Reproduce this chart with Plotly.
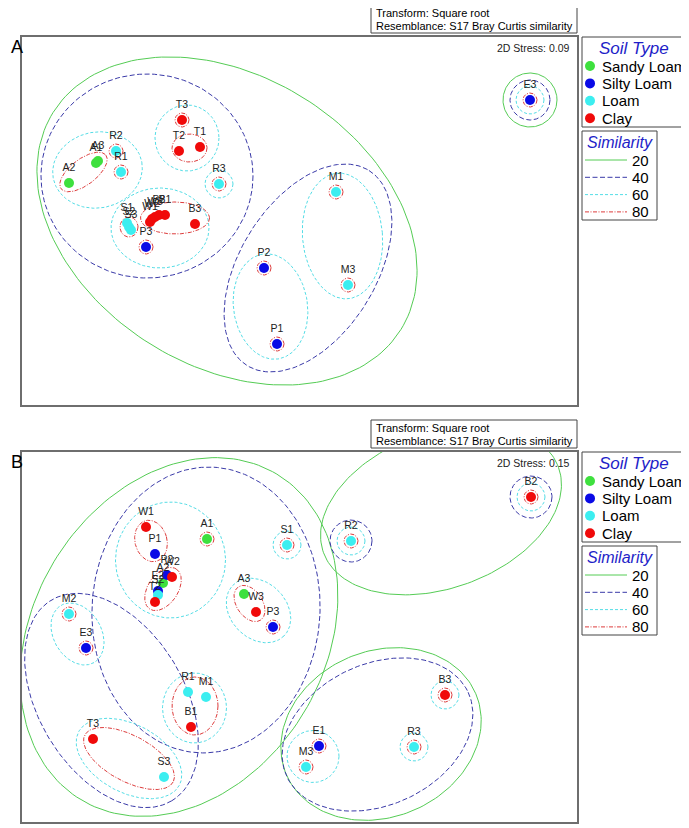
import numpy as np
import plotly.graph_objects as go

W, H = 689, 828
OFF = 8  # the page body margin shifts the figure by 8px
FW, FH = W - OFF, H - OFF
FONT = "Liberation Sans, Arial, sans-serif"

soil_types = ["Sandy Loam", "Silty Loam", "Loam", "Clay"]
soil_colors = ["#3ee03e", "#0a0ae6", "#3ceef0", "#f00a0a"]
sim_levels = ["20", "40", "60", "80"]
sim_colors = ["#55cc55", "#3a3aa8", "#55dde6", "#dd3c3c"]
sim_dash = ["solid", "5px,2.5px", "3px,2px", "4px,1.5px,1px,1.5px"]

# ---- panel A : nMDS, stress 0.09 ----
a_names = ["A1", "A2", "A3", "R1", "R2", "R3", "T1", "T2", "T3", "S1", "S2", "S3",
           "W1", "W2", "W3", "B1", "B2", "B3", "P1", "P2", "P3", "M1", "M3", "E3"]
a_x = [96, 69, 98, 121, 116, 219, 200, 179, 182, 127, 129, 131,
       150, 152, 155, 165, 159, 195, 277, 264, 146, 336, 348, 530]
a_y = [163, 183, 161, 172, 151, 184, 147, 151, 120, 223, 227, 230,
       222, 219, 217, 215, 215, 224, 344, 268, 247, 192, 285, 100]
a_soil = [0, 0, 0, 2, 2, 2, 3, 3, 3, 2, 2, 2,
          3, 3, 3, 3, 3, 3, 1, 1, 1, 2, 2, 1]

# cluster ellipses: centre x, centre y, radius x, radius y, tilt (deg)
a_ell_20 = [[227, 221, 205, 145, 32], [530, 100, 27, 27, 0]]
a_ell_40 = [[147, 176, 106, 102, 0], [308, 268, 115, 68, -58], [530, 100, 20, 20, 0]]
a_ell_60 = [[97.5, 170, 45, 38, -10], [187, 138, 32, 33, 0], [160, 228, 49, 40, 0],
            [270.5, 306.5, 37, 53, -8], [342.5, 236, 40, 63, -5]]
a_ell_80 = [[83.5, 172, 28, 13, -37], [189.5, 148, 17.5, 14, 0],
            [175, 218, 34.5, 16, 0], [129, 227, 9, 10, 0]]
a_single_60 = ["R3", "E3"]
a_single_80 = ["T3", "R2", "R1", "R3", "P3", "P2", "P1", "M1", "M3", "E3"]

# ---- panel B : nMDS, stress 0.15 ----
b_names = ["W1", "P1", "A1", "S1", "R2", "B2", "W2", "P2", "A2", "E2", "S2", "T2", "A3",
           "W3", "P3", "M2", "E3", "R1", "M1", "B1", "T3", "S3", "E1", "M3", "R3", "B3"]
b_x = [146, 155, 207, 287, 351, 531, 172, 167, 163, 158, 158, 155, 244,
       256, 273, 69, 86, 188, 206, 191, 93, 164, 319, 306, 414, 445]
b_y = [527, 554, 539, 545, 541, 497, 577, 575, 583, 591, 595, 602, 594,
       612, 627, 614, 648, 692, 697, 727, 739, 777, 746, 767, 747, 695]
b_soil = [3, 1, 0, 2, 2, 3, 3, 1, 0, 1, 2, 3, 0,
          3, 1, 2, 1, 2, 2, 3, 3, 2, 1, 2, 2, 3]

b_ell_20 = [[179, 637, 190, 146, -59], [441, 510, 125, 78, -20], [381, 734, 103, 83, -23]]
b_ell_40 = [[206, 610, 114, 143, 3], [111.5, 700.5, 117, 73, 59],
            [351, 541, 21, 21, 0], [531, 497, 21, 21, 0], [377.5, 734.5, 100, 70.5, -25]]
b_ell_60 = [[170.5, 560, 55, 58, 0], [258.5, 610.5, 36, 28, 45], [77.5, 634, 33, 24, 60],
            [194.5, 708, 32, 35, 0], [129, 758.5, 57, 34, 28], [313, 756.5, 26, 26, 0]]
b_ell_80 = [[151, 541, 16, 21, -15], [163, 589, 24, 15, -56], [249.5, 603.5, 20, 13, 56],
            [195, 706, 23, 29, 0], [129, 758.5, 50, 23, 28]]
b_single_60 = ["S1", "R2", "B2", "R3", "B3"]
b_single_80 = ["A1", "S1", "R2", "B2", "M2", "E3", "P3", "E1", "M3", "R3", "B3"]


def rings(names, xs, ys, picked, r):
    out = []
    for n in picked:
        i = names.index(n)
        out.append([xs[i], ys[i], r, r, 0])
    return out


def ellipse_path(ells):
    t = np.linspace(0, 2 * np.pi, 181)
    xs, ys = [], []
    for cx, cy, rx, ry, ang in ells:
        th = np.radians(ang)
        xs += list(cx + rx * np.cos(t) * np.cos(th) - ry * np.sin(t) * np.sin(th)) + [None]
        ys += list(cy + rx * np.cos(t) * np.sin(th) + ry * np.sin(t) * np.cos(th)) + [None]
    return xs, ys


def dom_x(a, b):
    return [(a - OFF) / FW, (b - OFF) / FW]


def dom_y(top, bottom):
    return [1 - (bottom - OFF) / FH, 1 - (top - OFF) / FH]


fig = go.Figure()

panels = [
    ("x", "y", a_names, a_x, a_y, a_soil,
     [a_ell_20, a_ell_40, a_ell_60 + rings(a_names, a_x, a_y, a_single_60, 14),
      a_ell_80 + rings(a_names, a_x, a_y, a_single_80, 7)]),
    ("x2", "y2", b_names, b_x, b_y, b_soil,
     [b_ell_20, b_ell_40, b_ell_60 + rings(b_names, b_x, b_y, b_single_60, 14),
      b_ell_80 + rings(b_names, b_x, b_y, b_single_80, 7)]),
]

for xa, ya, names, xs, ys, soil, ells in panels:
    for k, e in enumerate(ells):
        ex, ey = ellipse_path(e)
        fig.add_trace(go.Scatter(x=ex, y=ey, mode="lines", xaxis=xa, yaxis=ya,
                                 line=dict(color=sim_colors[k], width=1, dash=sim_dash[k]),
                                 hoverinfo="skip", showlegend=False))
    for s in range(4):
        idx = [i for i in range(len(names)) if soil[i] == s]
        fig.add_trace(go.Scatter(x=[xs[i] for i in idx], y=[ys[i] for i in idx],
                                 mode="markers", xaxis=xa, yaxis=ya, name=soil_types[s],
                                 marker=dict(size=10, color=soil_colors[s]),
                                 showlegend=False))
    fig.add_trace(go.Scatter(x=xs, y=ys, text=names, mode="markers+text", xaxis=xa, yaxis=ya,
                             textposition="top center",
                             textfont=dict(size=10.5, color="#222", family=FONT),
                             marker=dict(size=13, color="rgba(0,0,0,0)"),
                             hoverinfo="skip", showlegend=False))

# ---- hand-drawn legends, stress labels and boxes on a page-pixel overlay axis ----
shapes, annos = [], []
for dy, stress, tag in [(0, "0.09", "A"), (415, "0.15", "B")]:
    annos.append(dict(x=8.5, y=47 + dy, text=tag, xanchor="left", font=dict(size=18, color="black")))
    shapes.append(dict(type="rect", x0=371, x1=577, y0=5 + dy, y1=33 + dy))
    annos.append(dict(x=374, y=12.5 + dy, text="Transform: Square root", xanchor="left"))
    annos.append(dict(x=374, y=26 + dy, text="Resemblance: S17 Bray Curtis similarity", xanchor="left"))
    annos.append(dict(x=572, y=48 + dy, text="2D Stress: " + stress, xanchor="right",
                      font=dict(size=10.5, color="#222")))
    # soil type box
    shapes.append(dict(type="rect", x0=582, x1=686, y0=37 + dy, y1=127 + dy))
    annos.append(dict(x=634, y=48 + dy, text="<i>Soil Type</i>", font=dict(size=17, color="#1e1ec8")))
    ly = [66 + dy + 17.4 * i for i in range(4)]
    for i in range(4):
        fig.add_trace(go.Scatter(x=[590], y=[ly[i]], mode="markers", xaxis="x3", yaxis="y3",
                                 marker=dict(size=10, color=soil_colors[i]),
                                 hoverinfo="skip", showlegend=False))
        annos.append(dict(x=600, y=ly[i], text=soil_types[i], xanchor="left",
                          font=dict(size=15, color="black")))
    # similarity box
    shapes.append(dict(type="rect", x0=582, x1=657, y0=131 + dy, y1=220 + dy))
    annos.append(dict(x=619.5, y=142 + dy, text="<i>Similarity</i>", font=dict(size=16, color="#1e1ec8")))
    sy = [160 + dy + 17.3 * i for i in range(4)]
    for i in range(4):
        fig.add_trace(go.Scatter(x=[585, 627], y=[sy[i], sy[i]], mode="lines", xaxis="x3", yaxis="y3",
                                 line=dict(color=sim_colors[i], width=1, dash=sim_dash[i]),
                                 hoverinfo="skip", showlegend=False))
        annos.append(dict(x=651, y=sy[i], text=sim_levels[i], xanchor="right",
                          font=dict(size=15, color="black")))

for s in shapes:
    s.update(xref="x3", yref="y3", line=dict(color="#444", width=1), layer="above")
for a in annos:
    a.setdefault("xanchor", "center")
    a.setdefault("font", dict(size=11, color="black"))
    a["font"]["family"] = FONT
    a.update(xref="x3", yref="y3", yanchor="middle", showarrow=False)

frame = dict(showline=True, mirror=True, linecolor="#6e6e6e", linewidth=1.6,
             showticklabels=False, ticks="", showgrid=False, zeroline=False, fixedrange=True)

fig.update_layout(
    width=FW, height=FH,
    margin=dict(l=0, r=0, t=0, b=0),
    paper_bgcolor="white", plot_bgcolor="rgba(0,0,0,0)",
    font=dict(family=FONT),
    showlegend=False,
    xaxis=dict(domain=dom_x(22, 577), range=[22, 577], anchor="y", **frame),
    yaxis=dict(domain=dom_y(37, 405), range=[405, 37], anchor="x", **frame),
    xaxis2=dict(domain=dom_x(22, 577), range=[22, 577], anchor="y2", **frame),
    yaxis2=dict(domain=dom_y(452, 822), range=[822, 452], anchor="x2", **frame),
    xaxis3=dict(domain=[0, 1], range=[OFF, W], anchor="y3", visible=False, fixedrange=True),
    yaxis3=dict(domain=[0, 1], range=[H, OFF], anchor="x3", visible=False, fixedrange=True),
    shapes=shapes,
    annotations=annos,
)

fig.write_html("out.html")
